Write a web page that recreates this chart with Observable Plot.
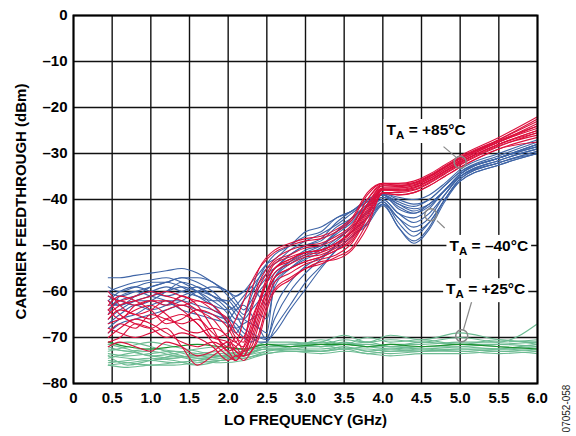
<!DOCTYPE html>
<html>
<head>
<meta charset="utf-8">
<script src="https://cdn.jsdelivr.net/npm/d3@7"></script>
<script src="https://cdn.jsdelivr.net/npm/@observablehq/plot@0.6"></script>
<style>
  html, body { margin: 0; padding: 0; background: white; }
</style>
</head>
<body>
<div id="chart"></div>
<script>
// ---- Data ----
const xTicks = [0, 0.5, 1.0, 1.5, 2.0, 2.5, 3.0, 3.5, 4.0, 4.5, 5.0, 5.5, 6.0];
const xTickLabels = ["0", "0.5", "1.0", "1.5", "2.0", "2.5", "3.0", "3.5", "4.0", "4.5", "5.0", "5.5", "6.0"];
const yTicks = [0, -10, -20, -30, -40, -50, -60, -70, -80];
const yTickLabels = ["0", "–10", "–20", "–30", "–40", "–50", "–60", "–70", "–80"];

// LO frequency sample points (GHz) for +85°C and -40°C sweeps
const freqRB = [0.45, 0.6, 0.8, 1.0, 1.2, 1.4, 1.6, 1.8, 2.0, 2.1, 2.2, 2.3, 2.4, 2.5, 2.6, 2.8, 3.0, 3.2, 3.4, 3.6, 3.8, 4.0, 4.2, 4.4, 4.6, 4.8, 5.0, 5.5, 6.0];

// TA = +85°C (red)
const red85 = [
  [-61,-62,-61,-60,-61,-62,-64,-66,-70,-71,-66,-60,-55,-52.5,-51,-49.5,-48.5,-48,-46.5,-44,-38.5,-36.5,-37,-36.5,-35,-33,-31,-27,-22.5],
  [-64,-66,-63,-62,-63,-61,-63,-68,-73,-72,-70,-66,-62,-58,-55,-53,-51.5,-51,-49.5,-47,-41,-37.5,-37.5,-37,-35.5,-33.5,-31.5,-27.5,-23.5],
  [-66,-64,-65,-66,-64,-63,-65,-70,-71,-74,-73,-69,-64,-60,-57,-55,-53.5,-52.5,-51,-48.5,-43,-38,-38,-37.5,-36,-34,-32,-28,-25],
  [-69,-67,-68,-65,-66,-67,-66,-69,-72,-70,-73,-72,-67,-62,-58,-56,-54,-53,-52,-49.5,-44,-38.5,-38.5,-38,-36.5,-34.5,-32.5,-28.5,-25.5],
  [-71,-70,-67,-68,-70,-69,-70,-72,-75,-74,-75,-73,-69,-63,-59.5,-57,-55,-54,-52.5,-50.5,-45,-38.7,-39,-38.5,-37,-35,-33,-29,-26.5],
  [-60,-63,-65,-64,-62,-64,-67,-70,-69,-66,-62,-58,-55,-53,-51.5,-50,-49,-48.5,-47,-44.5,-39,-36.5,-36.5,-36,-34.5,-32.5,-30.5,-26.5,-22],
  [-63,-61,-62,-64,-67,-66,-64,-65,-68,-71,-72,-68,-63,-58,-55,-53.5,-52,-51.5,-50,-47.5,-42,-37.5,-37.5,-37,-35.5,-33.5,-31.5,-27.5,-24.5],
  [-68,-69,-70,-69,-68,-72,-76,-74,-72,-73,-74,-71,-66,-61,-57,-55,-53.5,-52.5,-51,-49,-43.5,-38,-38,-37.5,-36,-34,-32,-28,-25.5],
  [-65,-63,-62,-61,-60,-61,-62,-63,-67,-70,-71,-63,-58,-55,-53,-51,-50,-49.5,-48,-45.5,-40,-36.7,-36.7,-36.3,-34.8,-32.8,-30.8,-27,-23],
  [-62,-65,-67,-68,-66,-65,-67,-71,-74,-75,-72,-67,-62,-57,-54,-52.5,-51.5,-51,-49.5,-47,-41.5,-37.8,-37.8,-37.3,-35.8,-33.8,-31.8,-28,-25],
  [-72,-71,-72,-73,-71,-72,-74,-73,-71,-72,-74,-73,-70,-64,-60,-57.5,-55,-53.5,-53,-51,-46,-38.5,-39,-38.5,-37,-35,-33,-29,-27.5],
  [-67,-66,-64,-63,-65,-68,-69,-68,-70,-73,-74,-69,-63,-58,-55,-53,-51.5,-51,-49.5,-46.5,-41,-37,-37,-36.5,-35,-33,-31,-27.5,-24],
  [-70,-68,-66,-67,-69,-71,-72,-71,-73,-75,-73,-70,-65,-60,-56,-54,-52.5,-52,-50.5,-48,-42.5,-37.8,-38.2,-37.8,-36.3,-34.3,-32.3,-28.3,-26],
  [-64,-62,-63,-62,-62,-63,-62,-64,-66,-69,-70,-64,-59,-56,-53.5,-52,-50.5,-50,-48.5,-46,-40,-37,-37.2,-36.8,-35.2,-33.2,-31.2,-27.2,-24]
];

// TA = -40°C (blue)
const blueM40 = [
  [-57,-57,-56.5,-56,-55.5,-55,-56,-58,-60,-61,-60,-58,-56,-54,-53,-50,-48,-47,-44,-42.5,-40,-38.7,-40,-41,-40,-37,-34,-31,-28],
  [-60,-61,-60,-59,-58,-57,-58,-60,-63,-64,-62,-60,-58,-56,-55,-52,-50,-49,-46,-44,-41,-39,-41,-42,-41,-38,-34.5,-31,-28.5],
  [-62,-60,-59,-60,-61,-60,-59,-61,-64,-66,-66,-64,-62,-60,-57,-54,-52,-50.5,-47,-44,-41.5,-40,-43,-44,-42,-38,-35,-31.5,-29],
  [-64,-62,-61,-60,-59,-60,-61,-62,-62,-64,-66,-67,-68,-69,-58,-55,-53,-51.5,-49,-46,-43,-40.5,-44,-46,-44,-39,-35,-32,-29.5],
  [-66,-64,-62,-61,-60,-59,-60,-62,-65,-68,-70,-71,-70,-70,-66,-60,-56,-53,-50,-47,-44,-40.5,-45,-48,-45,-40,-35.5,-32,-30],
  [-68,-66,-65,-63,-62,-62,-63,-64,-66,-67,-69,-70,-71,-71,-68,-63,-58,-54.5,-51,-48,-45,-41,-46,-49,-46,-40,-36,-32.5,-30],
  [-61,-62,-63,-62,-60,-58,-59,-61,-62,-61,-60,-59,-61,-63,-57,-53.5,-51,-50,-47.5,-45,-41.5,-39.5,-41.5,-43,-41.5,-38,-34.5,-31,-28],
  [-63,-63,-62,-62,-63,-62,-60,-59,-60,-62,-64,-62,-59,-57,-55,-52,-50,-48.5,-45,-42.5,-40.5,-39,-42,-43,-41,-38,-34.5,-31,-28],
  [-65,-61,-60,-61,-62,-64,-65,-66,-67,-68,-67,-66,-65,-66,-59,-55,-52.5,-51,-48.5,-46,-42.5,-40,-43,-45,-43,-39,-35,-31.5,-29],
  [-59,-60,-59,-58,-58,-59,-61,-63,-64,-63,-61,-59,-57,-55,-54,-51,-49,-47.5,-45.5,-43,-40.5,-39,-40.5,-41.5,-40,-37,-34,-30.5,-27.5],
  [-67,-65,-63,-64,-63,-61,-60,-61,-63,-65,-68,-69,-70,-70.5,-64,-58,-54.5,-52.5,-50,-47,-44,-41,-44,-47,-45,-40,-35.5,-32,-29.5],
  [-62,-63,-61,-59,-58,-57,-57,-58,-61,-63,-65,-63,-60,-58,-56,-53.5,-51.5,-50,-47,-44.5,-41.5,-39.5,-41,-42.5,-41,-38,-34.5,-31,-28.5],
  [-60,-59,-58,-57.5,-57,-58,-60,-63,-67,-69,-66,-61,-57,-54,-52,-50,-47,-46,-44,-42.5,-40,-38.8,-39.5,-40,-39,-36.5,-33.5,-30,-27],
  [-69,-67,-66,-65,-64,-63,-64,-65,-66,-64,-63,-65,-68,-70.5,-69,-64,-59.5,-55,-51,-48,-45.5,-41.3,-46,-49.5,-46.5,-40.5,-36,-32.5,-30]
];

// TA = +25°C (green)
const freqG = [0.45, 0.7, 1.0, 1.3, 1.6, 1.9, 2.2, 2.5, 2.8, 3.2, 3.5, 3.8, 4.1, 4.5, 5.0, 5.5, 6.0];
const green25 = [
  [-72,-73,-72.5,-73,-74,-73.5,-73,-71,-71,-71.5,-70.5,-71,-70.5,-71,-70,-71,-70.5],
  [-74,-74.5,-75,-74,-74.5,-75,-74,-72,-72,-72,-71.5,-72,-72.5,-72,-72,-72.5,-72],
  [-75,-75.5,-76,-75.5,-75,-74.5,-73.5,-72.5,-72.5,-72.5,-72,-73,-73.5,-73,-72.5,-73,-72.5],
  [-73,-72,-71,-72,-73,-74,-74.5,-73,-72,-71,-69.5,-71,-69.5,-70.5,-69,-70.5,-71],
  [-75.5,-75,-74.5,-75,-76,-75,-74,-73,-72.5,-73,-72.5,-72.5,-73,-72.5,-73,-72.5,-71.5],
  [-71.5,-72.5,-74,-73.5,-72.5,-72,-72.5,-71.5,-71.5,-72,-71,-72,-71.5,-71.5,-71,-71,-67],
  [-74.5,-73.5,-73,-74,-75,-75.5,-75,-73.5,-73,-73.5,-73,-73.5,-74,-73.5,-73.5,-73,-73.5],
  [-76,-75.5,-75,-75.5,-75,-74,-73,-72,-71.5,-72,-71.5,-71.5,-72,-72,-71.5,-72,-72.5],
  [-73.5,-74,-73.5,-73,-73.5,-74,-73.5,-72.5,-72.5,-71.5,-72.5,-72,-72,-72.5,-72,-71.5,-71],
  [-74,-76,-75,-74.5,-74,-74.5,-74,-72.5,-73,-73,-72,-73,-72.5,-73,-72.5,-72.5,-73],
  [-72.5,-73,-74,-74.5,-73.5,-73,-72.5,-72,-71.5,-71,-71.5,-71,-72,-71,-71.5,-71.5,-72],
  [-76,-76.5,-76,-76,-75.5,-75,-74.5,-73.5,-73,-73,-72.5,-73.5,-73,-73,-73,-73.5,-73],
  [-71.5,-71,-72,-73.5,-74.5,-74,-73,-72,-72,-70.5,-71.5,-70,-71,-70.5,-71.5,-70.5,-71.5]
];
const darkGreen25 = [
  [-71,-72,-72.5,-72,-71.5,-72,-72.5,-71.5,-72,-71.5,-71.5,-72,-71.5,-72,-71.5,-72,-72.5]
];

// Annotations (data units)
const labels = [
  {f: 4.56, v: -24.9, text: "T_A = +85°C"},
  {f: 5.37, v: -50.1, text: "T_A = –40°C"},
  {f: 5.33, v: -59.5, text: "T_A = +25°C"}
];
const circles = [
  {f: 5.00, v: -31.9},
  {f: 4.62, v: -43.3},
  {f: 5.02, v: -69.6}
];
const leaders = [
  {f1: 4.785, v1: -28.5, f2: 4.953, v2: -30.9},
  {f1: 4.70, v1: -44.6, f2: 4.80, v2: -46.2},
  {f1: 5.156, v1: -61.8, f2: 5.043, v2: -68.3}
];

// ---- Build tables ----
function toRows(freqs, series, group) {
  return series.flatMap((vals, k) => vals.map((v, i) => ({f: freqs[i], v, id: group + k})));
}
const redRows = toRows(freqRB, red85, "r");
const blueRows = toRows(freqRB, blueM40, "b");
const greenRows = toRows(freqG, green25, "g");
const dgRows = toRows(freqG, darkGreen25, "dg");

const FONT = "'Liberation Sans', Arial, Helvetica, sans-serif";

const chart = Plot.plot({
  width: 576,
  height: 436,
  marginLeft: 73,
  marginRight: 39,
  marginTop: 15,
  marginBottom: 53,
  style: {fontFamily: FONT, fontSize: "15px", fontWeight: "bold", background: "white", overflow: "visible", color: "black"},
  x: {domain: [0, 6], label: null},
  y: {domain: [-80, 0], label: null},
  marks: [
    Plot.gridX(xTicks, {stroke: "#111", strokeOpacity: 1, strokeWidth: 1.4}),
    Plot.gridY(yTicks, {stroke: "#111", strokeOpacity: 1, strokeWidth: 1.4}),
    Plot.line(greenRows, {x: "f", y: "v", z: "id", stroke: "#6cbb92", strokeWidth: 1.1, curve: "monotone-x"}),
    Plot.line(dgRows, {x: "f", y: "v", z: "id", stroke: "#18902c", strokeWidth: 1.1, curve: "monotone-x"}),
    Plot.line(blueRows, {x: "f", y: "v", z: "id", stroke: "#3e64a6", strokeWidth: 1.1, curve: "monotone-x"}),
    Plot.line(redRows, {x: "f", y: "v", z: "id", stroke: "#dc0f3c", strokeWidth: 1.1, curve: "monotone-x"}),
    Plot.link(leaders, {x1: "f1", y1: "v1", x2: "f2", y2: "v2", stroke: "#888", strokeWidth: 1.2}),
    Plot.dot(circles, {x: "f", y: "v", r: 6, stroke: "#888", strokeWidth: 1.5, fill: "none"}),
    Plot.text(labels, {x: "f", y: "v", text: "text", fontSize: 15.5, fontWeight: "bold", fill: "black", textAnchor: "middle"}),
    Plot.axisX({ticks: xTicks, tickSize: 0, tickPadding: 9, fontSize: 15, fontWeight: "bold",
      tickFormat: d => xTickLabels[xTicks.indexOf(d)], label: null}),
    Plot.axisY({ticks: yTicks, tickSize: 0, tickPadding: 6, fontSize: 15, fontWeight: "bold",
      tickFormat: d => yTickLabels[yTicks.indexOf(d)], label: null}),
    Plot.frame({stroke: "black", strokeWidth: 2}),
    Plot.text(["LO FREQUENCY (GHz)"], {text: d => d, frameAnchor: "bottom", dy: 41, fontSize: 15, fontWeight: "bold", textAnchor: "middle"}),
    Plot.text(["CARRIER FEEDTHROUGH (dBm)"], {text: d => d, frameAnchor: "left", dx: -52.5, dy: 2, rotate: -90, fontSize: 15, fontWeight: "bold", textAnchor: "middle"}),
    Plot.text(["07052-058"], {text: d => d, frameAnchor: "bottom-right", dx: 32, dy: 25, rotate: -90, fontSize: 10, fontWeight: "normal", fill: "#222", textAnchor: "middle"})
  ]
});

document.getElementById("chart").appendChild(chart);

// Subscript "A" in the T_A labels, with a white box behind each label
d3.select(chart).selectAll("text").each(function() {
  const t = this.textContent;
  if (t.startsWith("T_A")) {
    const rest = t.slice(3);
    const sel = d3.select(this);
    sel.text(null);
    sel.append("tspan").text("T");
    sel.append("tspan").attr("dy", 4).attr("font-size", 11.5).text("A");
    sel.append("tspan").attr("dy", -4).text(rest);
    const bb = this.getBBox();
    const pad = 3;
    const rect = document.createElementNS("http://www.w3.org/2000/svg", "rect");
    rect.setAttribute("x", bb.x - pad);
    rect.setAttribute("y", bb.y - pad + 1);
    rect.setAttribute("width", bb.width + 2 * pad);
    rect.setAttribute("height", bb.height + 2 * pad - 2);
    rect.setAttribute("fill", "white");
    const tr = this.getAttribute("transform");
    if (tr) rect.setAttribute("transform", tr);
    this.parentNode.insertBefore(rect, this);
  }
});
</script>
</body>
</html>
